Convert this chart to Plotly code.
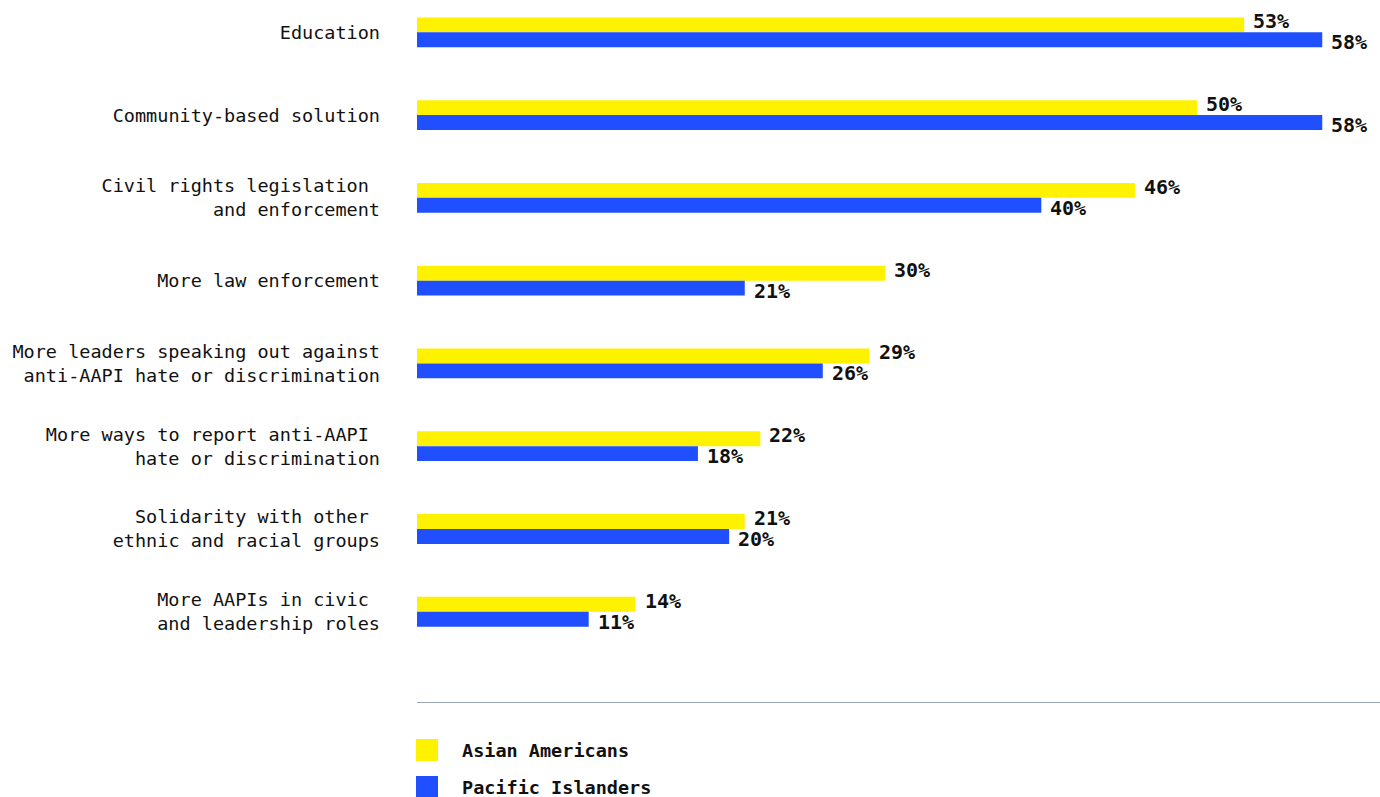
import plotly.graph_objects as go

categories = [
    "Education",
    "Community-based solution",
    "Civil rights legislation\u00a0<br>and enforcement",
    "More law enforcement",
    "More leaders speaking out against<br>anti-AAPI hate or discrimination",
    "More ways to report anti-AAPI\u00a0<br>hate or discrimination",
    "Solidarity with other\u00a0<br>ethnic and racial groups",
    "More AAPIs in civic\u00a0<br>and leadership roles",
]
series_names = ["Asian Americans", "Pacific Islanders"]
asian_americans = [53, 50, 46, 30, 29, 22, 21, 14]
pacific_islanders = [58, 58, 40, 21, 26, 18, 20, 11]
colors = ["#fff200", "#1f4fff"]

FONT = "DejaVu Sans Mono"
label_yshift = [11, -10]

fig = go.Figure()
annotations = []
for name, vals, col, ys in zip(series_names, [asian_americans, pacific_islanders], colors, label_yshift):
    fig.add_trace(go.Bar(
        y=categories, x=vals, name=name, orientation="h",
        marker=dict(color=col, line=dict(width=0)),
        showlegend=False, hoverinfo="skip",
    ))
    for cat, v in zip(categories, vals):
        annotations.append(dict(x=v, y=cat, xref="x", yref="y", text=f"{v}%",
                                xanchor="left", yanchor="middle", xshift=7, yshift=ys,
                                showarrow=False,
                                font=dict(family=FONT, size=20, color="#111111", weight="bold")))

# manual legend
legend_offsets = [(-37, -48), (-74, -85)]
shapes = []
for (top, mid), name, col in zip(legend_offsets, series_names, colors):
    shapes.append(dict(type="rect", xref="paper", yref="paper",
                       xsizemode="pixel", ysizemode="pixel",
                       xanchor=0, yanchor=0, x0=-1, x1=21, y0=top - 22, y1=top,
                       fillcolor=col, line=dict(width=0)))
    annotations.append(dict(text=name, xref="paper", yref="paper", x=0, y=0,
                            xanchor="left", yanchor="middle", xshift=43, yshift=mid,
                            showarrow=False,
                            font=dict(family=FONT, size=18.5, color="#111111", weight="bold")))

fig.update_layout(
    width=1380, height=797,
    margin=dict(l=417, r=0, t=0, b=95),
    paper_bgcolor="white", plot_bgcolor="white",
    barmode="group", bargap=0.64, bargroupgap=0,
    font=dict(family=FONT, size=18, color="#111111"),
    xaxis=dict(range=[0, 61.7], showgrid=False, zeroline=False, showticklabels=False,
               ticks="", showline=True, linecolor="#9aaab2", linewidth=1),
    yaxis=dict(categoryorder="array", categoryarray=categories, range=[8.09, -0.39],
               showgrid=False, zeroline=False, ticks="", ticklabelstandoff=36,
               tickfont=dict(family=FONT, size=18.5, color="#111111")),
    shapes=shapes, annotations=annotations,
)

fig.write_html(
    "out.html",
    config={"displayModeBar": False},
    post_script="document.documentElement.style.margin='0';document.body.style.margin='0';document.body.style.overflow='hidden';",
)
